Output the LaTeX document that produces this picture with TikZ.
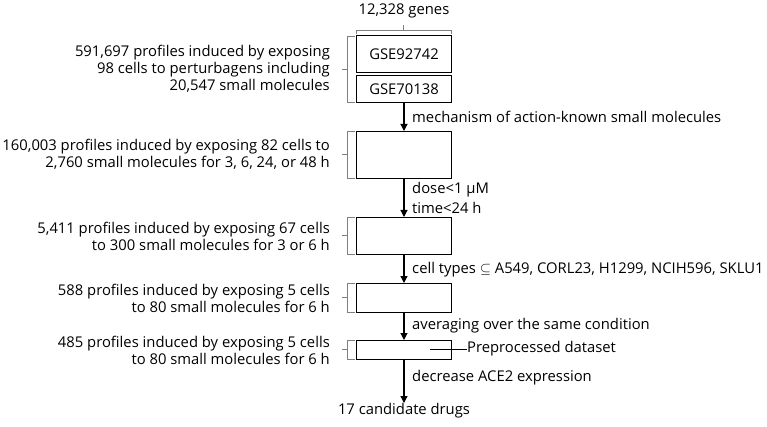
\documentclass[tikz,border=0pt]{standalone}
\usepackage{fontspec}
\setmainfont{Open Sans}
\usepackage{amssymb}
\usetikzlibrary{arrows.meta}
\begin{document}
\begin{tikzpicture}[x=1pt,y=-1pt,
  box/.style={draw,line width=1.1pt,minimum width=95pt,inner sep=0pt,anchor=north west},
  lab/.style={font=\fontsize{14.8}{17}\selectfont,inner sep=0pt},
  side/.style={lab,align=right,anchor=east},
  arr/.style={-{Triangle[length=7pt,width=7pt]},line width=1.1pt},
  brk/.style={draw=gray,line width=0.7pt}]
\useasboundingbox (0,0) rectangle (767,427);
\node[box,minimum height=37pt] (b1) at (356,35) {\fontsize{14.8}{17}\selectfont GSE92742};
\node[box,minimum height=27pt] (b2) at (356,75) {\fontsize{14.8}{17}\selectfont GSE70138};
\node[box,minimum height=47pt] (b3) at (356,131) {};
\node[box,minimum height=37pt] (b4) at (356,217) {};
\node[box,minimum height=29pt] (b5) at (356,283) {};
\node[box,minimum height=19pt] (b6) at (356,340) {};
\node[lab] (top) at (404,11) {12,328 genes};
\node[lab,anchor=north] (res) at (404,403) {17 candidate drugs};
% top brace
\draw[brk] (356,34) -- (356,30) -- (451,30) -- (451,34) (403.5,30) -- (403.5,25);
% arrows
\draw[arr] (b2.south -| 404,0) -- (b3.north -| 404,0);
\draw[arr] (b3.south -| 404,0) -- (b4.north -| 404,0);
\draw[arr] (b4.south -| 404,0) -- (b5.north -| 404,0);
\draw[arr] (b5.south -| 404,0) -- (b6.north -| 404,0);
\draw[arr] (b6.south -| 404,0) -- (res.north);
% arrow labels
\node[lab,anchor=west] (l1) at (412,117) {mechanism of action-known small molecules};
\node[lab,anchor=west] (l2) at (412,190) {dose<1 μM};
\node[lab,anchor=west] (l3) at (412,208) {time<24 h};
\node[lab,anchor=west] (l4) at (412,270) {cell types $\subseteq$ A549, CORL23, H1299, NCIH596, SKLU1};
\node[lab,anchor=west] (l5) at (412,326) {averaging over the same condition};
\node[lab,anchor=west] (l6) at (412,378) {decrease ACE2 expression};
\node[lab,anchor=west] (pp) at (467,349) {Preprocessed dataset};
\draw[line width=0.6pt] (430,349) -- (pp.west);
% brackets
\foreach \a/\b in {36/102,131/178,217/254,283/312,340/359}{
  \draw[brk] (355,\a) -- (347,\a) -- (347,\b) -- (355,\b) (347,{(\a+\b)/2}) -- (342,{(\a+\b)/2});
}
% side texts
\node[side] (s1) at (330,69) {591,697 profiles induced by exposing\\98 cells to perturbagens including\\20,547 small molecules};
\node[side] (s2) at (330,154) {160,003 profiles induced by exposing 82 cells to\\2,760 small molecules for 3, 6, 24, or 48 h};
\node[side] (s3) at (330,236) {5,411 profiles induced by exposing 67 cells\\to 300 small molecules for 3 or 6 h};
\node[side] (s4) at (330,298) {588 profiles induced by exposing 5 cells\\to 80 small molecules for 6 h};
\node[side] (s5) at (330,350) {485 profiles induced by exposing 5 cells\\to 80 small molecules for 6 h};
\end{tikzpicture}
\end{document}
